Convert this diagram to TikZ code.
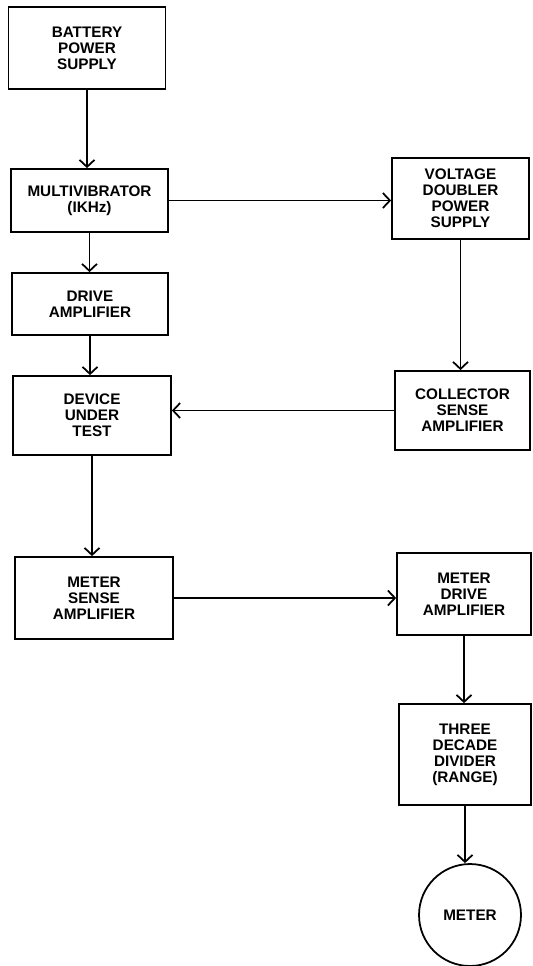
\documentclass[tikz,border=0pt]{standalone}
\usepackage{fontspec}
\setmainfont{Liberation Sans}
\usetikzlibrary{arrows.meta, positioning, calc}

\begin{document}
\begin{tikzpicture}[
      x=0.02cm, y=-0.02cm,
      font=\bfseries\fontsize{8.7}{9.1}\selectfont,
      line width=1pt,
      blockbox/.style={
          draw,
          align=center,
          inner sep=0pt
      },
      meterbox/.style={
          draw,
          circle,
          minimum size=2.04cm,
          inner sep=0pt
      },
      arrow/.style={-{Straight Barb[length=4pt, width=8.5pt]}}
  ]
      \useasboundingbox (0,0) rectangle (532,966);

      % --- Left column ---
      \node[blockbox, minimum width=3.14cm, minimum height=1.64cm] (batt) at (87,48) {BATTERY\\POWER\\SUPPLY};
      \node[blockbox, minimum width=3.14cm, minimum height=1.26cm] (multi) at (89.5,200.5) {MULTIVIBRATOR\\(IKHz)};
      \node[blockbox, minimum width=3.12cm, minimum height=1.24cm] (drive) at (90,304) {DRIVE\\AMPLIFIER};
      \node[blockbox, minimum width=3.16cm, minimum height=1.58cm] (dut) at (92,415.5) {DEVICE\\UNDER\\TEST};
      \node[blockbox, minimum width=3.16cm, minimum height=1.64cm] (msense) at (94,598) {METER\\SENSE\\AMPLIFIER};

      % --- Right column ---
      \node[blockbox, minimum width=2.74cm, minimum height=1.62cm] (vdbl) at (460.5,198.5) {VOLTAGE\\DOUBLER\\POWER\\SUPPLY};
      \node[blockbox, minimum width=2.70cm, minimum height=1.58cm] (coll) at (462.5,410.5) {COLLECTOR\\SENSE\\AMPLIFIER};
      \node[blockbox, minimum width=2.68cm, minimum height=1.64cm] (mdrive) at (464,594) {METER\\DRIVE\\AMPLIFIER};
      \node[blockbox, minimum width=2.64cm, minimum height=2.02cm] (decade) at (465,754.5) {THREE\\DECADE\\DIVIDER\\(RANGE)};
      \node[meterbox] (meter) at (470,915) {METER};

      % --- Connections (arrows) ---
      \draw[arrow] (batt) -- (batt |- multi.north);
      \draw[arrow] (multi) -- (multi -| vdbl.west);
      \draw[arrow] (multi) -- (multi |- drive.north);
      \draw[arrow] (drive) -- (drive |- dut.north);
      \draw[arrow] (vdbl) -- (vdbl |- coll.north);
      \draw[arrow] (coll) -- (coll -| dut.east);
      \draw[arrow] (dut) -- (dut |- msense.north);
      \draw[arrow] (msense) -- (msense -| mdrive.west);
      \draw[arrow] (mdrive) -- (mdrive |- decade.north);
      \draw[arrow] (decade) -- (decade |- meter.north);

  \end{tikzpicture}
\end{document}
